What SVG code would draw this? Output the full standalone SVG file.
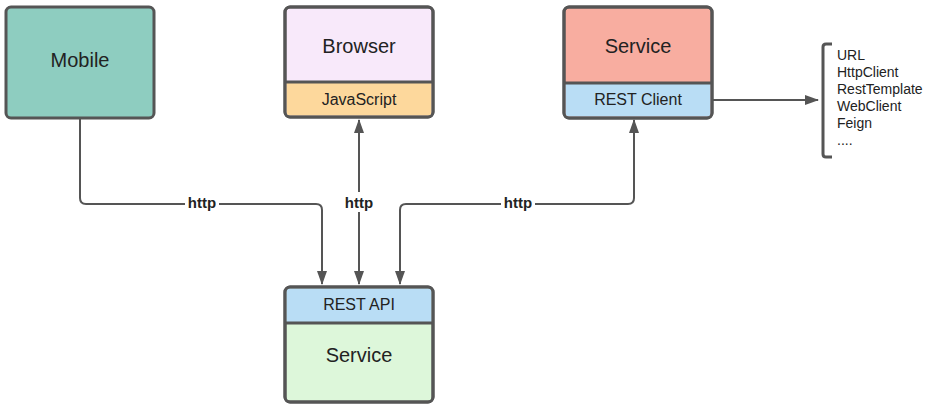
<svg xmlns="http://www.w3.org/2000/svg" width="930" height="413" viewBox="0 0 930 413">
  <defs>
    <marker id="arrow" viewBox="0 0 14 10" refX="13" refY="5" markerWidth="14" markerHeight="10" orient="auto-start-reverse" markerUnits="userSpaceOnUse">
      <path d="M0,0 L14,5 L0,10 z" fill="#555"/>
    </marker>
    <style>
      .box { stroke: #555; stroke-width: 3; }
      .sep { stroke: #555; stroke-width: 3; fill: none; }
      .wire { stroke: #555; stroke-width: 2; fill: none; }
      .big { font-family: "Liberation Sans", Arial, sans-serif; font-size: 20px; fill: #222; text-anchor: middle; }
      .mid { font-family: "Liberation Sans", Arial, sans-serif; font-size: 16px; fill: #222; text-anchor: middle; }
      .lbl { font-family: "Liberation Sans", Arial, sans-serif; font-size: 15px; font-weight: bold; fill: #222; text-anchor: middle; }
      .lst { font-family: "Liberation Sans", Arial, sans-serif; font-size: 14px; fill: #222; }
    </style>
  </defs>
  <rect width="930" height="413" fill="#fff"/>

  <g id="connectors">
    <!-- Mobile to REST API -->
    <path class="wire" d="M80,118 V198 Q80,204 86,204 H316 Q322,204 322,210 V284" marker-end="url(#arrow)"/>
    <!-- Browser to REST API, both ways -->
    <path class="wire" d="M359,120 V284" marker-start="url(#arrow)" marker-end="url(#arrow)"/>
    <!-- Service client to REST API -->
    <path class="wire" d="M634,120 V198 Q634,204 628,204 H406 Q400,204 400,210 V284" marker-start="url(#arrow)" marker-end="url(#arrow)"/>
    <!-- REST Client to library list -->
    <path class="wire" d="M713,100 H818" marker-end="url(#arrow)"/>
    <rect x="185" y="194" width="34" height="18" fill="#fff"/>
    <text class="lbl" x="202" y="208">http</text>
    <rect x="342" y="192" width="34" height="20" fill="#fff"/>
    <text class="lbl" x="359" y="208">http</text>
    <rect x="501" y="194" width="34" height="18" fill="#fff"/>
    <text class="lbl" x="518" y="208">http</text>
  </g>

  <g id="mobile">
    <rect class="box" x="6" y="7" width="148" height="111" rx="5" fill="#8ECDC0"/>
    <text class="big" x="80" y="67">Mobile</text>
  </g>

  <g id="browser">
    <rect class="box" x="285" y="7" width="148" height="110" rx="5" fill="#F8E9FA"/>
    <path d="M286.5,82 H431.5 V112 Q431.5,115.5 428,115.5 H290 Q286.5,115.5 286.5,112 Z" fill="#FDD89C"/>
    <line class="sep" x1="285" y1="82" x2="433" y2="82"/>
    <rect x="285" y="7" width="148" height="110" rx="5" fill="none" stroke="#555" stroke-width="3"/>
    <text class="big" x="359" y="53">Browser</text>
    <text class="mid" x="359" y="105">JavaScript</text>
  </g>

  <g id="service-client">
    <rect class="box" x="564" y="7" width="148" height="111" rx="5" fill="#F8ADA0"/>
    <path d="M565.5,83 H710.5 V113 Q710.5,116.5 707,116.5 H569 Q565.5,116.5 565.5,113 Z" fill="#B9DDF5"/>
    <line class="sep" x1="564" y1="83" x2="712" y2="83"/>
    <rect x="564" y="7" width="148" height="111" rx="5" fill="none" stroke="#555" stroke-width="3"/>
    <text class="big" x="638" y="53">Service</text>
    <text class="mid" x="638" y="105">REST Client</text>
  </g>

  <g id="service-api">
    <rect class="box" x="285" y="287" width="148" height="115" rx="5" fill="#DDF7DA"/>
    <path d="M286.5,323 V292 Q286.5,288.5 290,288.5 H428 Q431.5,288.5 431.5,292 V323 Z" fill="#B9DDF5"/>
    <line class="sep" x1="285" y1="323" x2="433" y2="323"/>
    <rect x="285" y="287" width="148" height="115" rx="5" fill="none" stroke="#555" stroke-width="3"/>
    <text class="mid" x="359" y="310">REST API</text>
    <text class="big" x="359" y="362">Service</text>
  </g>

  <g id="client-libraries">
    <path d="M832,44 H826 Q823,44 823,47 V154 Q823,157 826,157 H832" fill="none" stroke="#555" stroke-width="3"/>
    <text class="lst" x="837" y="60">URL</text>
    <text class="lst" x="837" y="77">HttpClient</text>
    <text class="lst" x="837" y="94">RestTemplate</text>
    <text class="lst" x="837" y="111">WebClient</text>
    <text class="lst" x="837" y="128">Feign</text>
    <text class="lst" x="837" y="145">....</text>
  </g>
</svg>
